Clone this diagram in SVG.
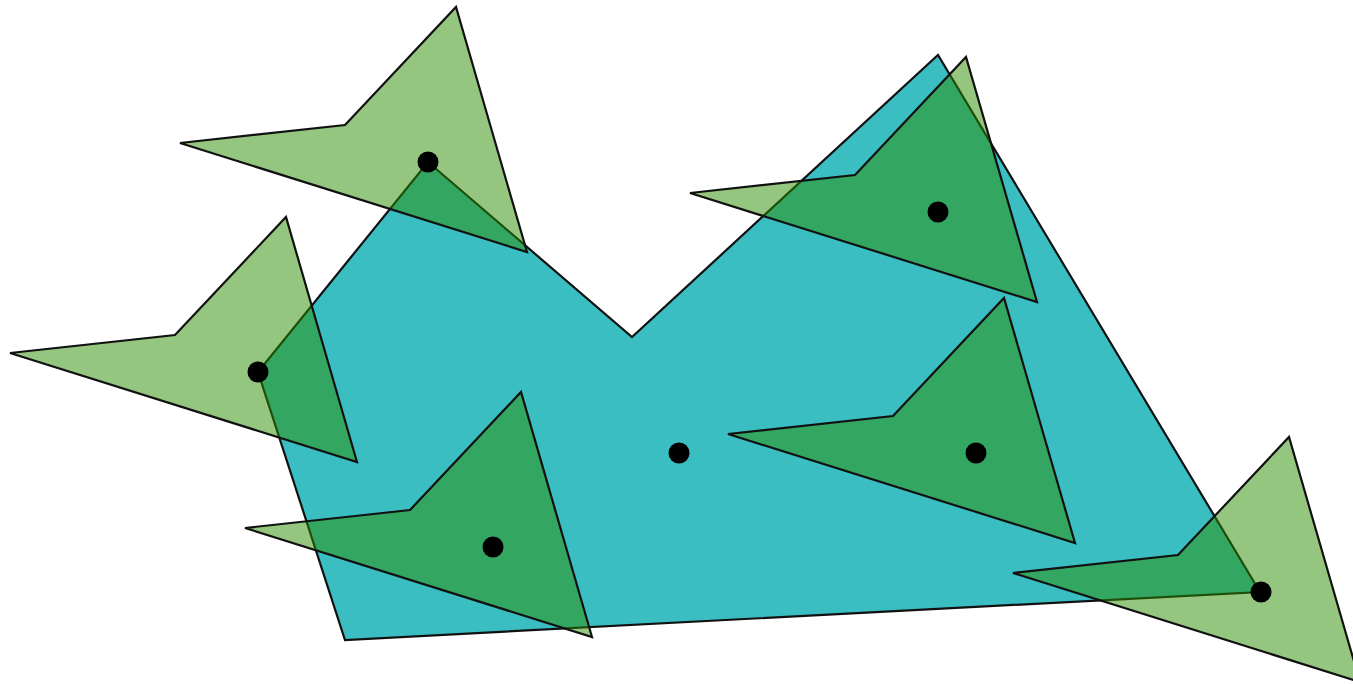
<svg xmlns="http://www.w3.org/2000/svg" xmlns:xlink="http://www.w3.org/1999/xlink" width="1353" height="684" viewBox="0 0 1353 684">
<style>
.poly{fill:#3abec2;stroke:#111;stroke-width:2.2;stroke-linejoin:miter}
.dart{fill:#2b8d00;fill-opacity:0.5;stroke:#111;stroke-width:2.2;stroke-linejoin:miter}
.dot{fill:#000}
</style>
<defs>
<path id="dartShape" d="M-248,-19 L-83,-37 L28,-155 L99,90 Z"/>
</defs>
<rect width="1353" height="684" fill="#fff"/>
<g id="region">
<polygon class="poly" points="428,162 632,337 938,55 1260,592 345,640 258,372"/>
</g>
<g id="darts">
<g id="dart1" transform="translate(428,162)"><use xlink:href="#dartShape" class="dart"/></g>
<g id="dart2" transform="translate(258,372)"><use xlink:href="#dartShape" class="dart"/></g>
<g id="dart3" transform="translate(493,547)"><use xlink:href="#dartShape" class="dart"/></g>
<g id="dart4" transform="translate(938,212)"><use xlink:href="#dartShape" class="dart"/></g>
<g id="dart5" transform="translate(976,453)"><use xlink:href="#dartShape" class="dart"/></g>
<g id="dart6" transform="translate(1261,592)"><use xlink:href="#dartShape" class="dart"/></g>
</g>
<g id="points">
<circle class="dot" cx="428" cy="162" r="10.5"/>
<circle class="dot" cx="258" cy="372" r="10.5"/>
<circle class="dot" cx="493" cy="547" r="10.5"/>
<circle class="dot" cx="938" cy="212" r="10.5"/>
<circle class="dot" cx="976" cy="453" r="10.5"/>
<circle class="dot" cx="1261" cy="592" r="10.5"/>
<circle class="dot" cx="679" cy="453" r="10.5"/>
</g>
</svg>
